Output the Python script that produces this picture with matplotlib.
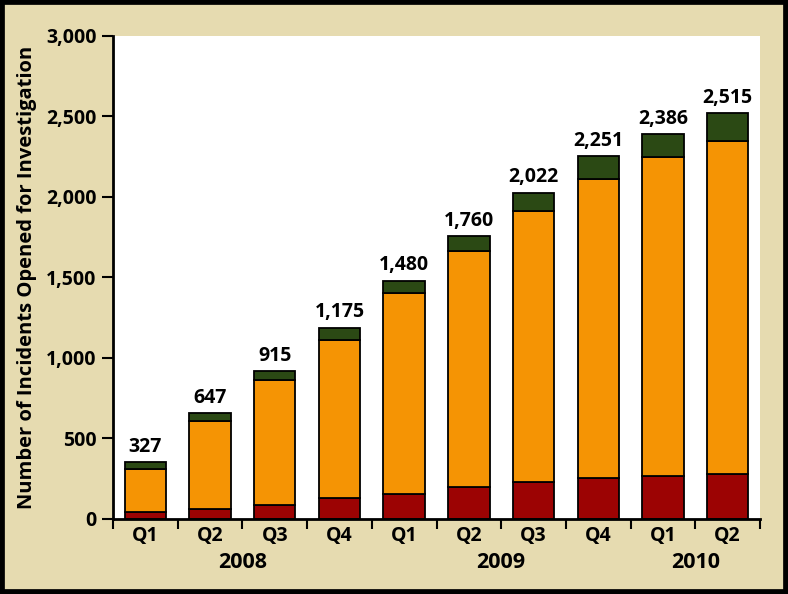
import matplotlib.pyplot as plt
import numpy as np
from matplotlib.patches import Rectangle
from matplotlib.ticker import FuncFormatter

# values
quarters = ["Q1", "Q2", "Q3", "Q4", "Q1", "Q2", "Q3", "Q4", "Q1", "Q2"]
years = ["2008", "2009", "2010"]
year_centers = [1.5, 5.5, 8.5]
red_part = [43, 64, 85, 132, 153, 197, 232, 255, 267, 279]
orange_part = [266, 545, 778, 980, 1252, 1469, 1681, 1858, 1979, 2069]
green_part = [43, 47, 54, 74, 73, 91, 113, 141, 143, 171]
total_labels = ["327", "647", "915", "1,175", "1,480", "1,760", "2,022", "2,251", "2,386", "2,515"]

beige = "#e6dbb0"
c_red = "#9c0303"
c_orange = "#f59404"
c_green = "#2b4914"

plt.rcParams['font.family'] = ['Open Sans', 'DejaVu Sans']
plt.rcParams['font.weight'] = 'bold'


def main():
    fig = plt.figure(figsize=(7.88, 5.94), dpi=100, facecolor=beige)
    ax = fig.add_axes([0.1434, 0.1263, 0.8211, 0.8131])
    ax.set_facecolor("white")

    x = np.arange(len(quarters))
    red = np.array(red_part)
    orange = np.array(orange_part)
    green = np.array(green_part)
    w = 0.64
    kw = dict(width=w, edgecolor="black", linewidth=1.3, zorder=3)
    ax.bar(x, red, color=c_red, **kw)
    ax.bar(x, orange, bottom=red, color=c_orange, **kw)
    ax.bar(x, green, bottom=red + orange, color=c_green, **kw)

    tops = red + orange + green
    for xi, top, lab in zip(x, tops, total_labels):
        ax.annotate(lab, (xi, top), xytext=(0, 4), textcoords="offset points",
                    ha="center", va="bottom", fontsize=14, fontweight="bold")

    ax.set_xlim(-0.5, len(quarters) - 0.5)
    ax.set_ylim(0, 3000)

    for s in ["top", "right"]:
        ax.spines[s].set_visible(False)
    for s in ["left", "bottom"]:
        ax.spines[s].set_linewidth(2)
        ax.spines[s].set_zorder(4)

    ax.set_yticks(np.arange(0, 3001, 500))
    ax.yaxis.set_major_formatter(FuncFormatter(lambda v, p: f"{int(v):,}"))
    ax.tick_params(axis="y", length=8, width=1.5, labelsize=14, pad=4)

    ax.set_xticks(x)
    ax.set_xticklabels(quarters)
    ax.tick_params(axis="x", which="major", length=0, labelsize=14, pad=5)
    ax.set_xticks(np.arange(-0.5, len(quarters), 1), minor=True)
    ax.tick_params(axis="x", which="minor", length=7, width=1.5, direction="out")
    for lab in ax.get_xticklabels() + ax.get_yticklabels():
        lab.set_fontweight("bold")

    for yc, yr in zip(year_centers, years):
        ax.text(yc, -0.09, yr, transform=ax.get_xaxis_transform(),
                ha="center", va="center", fontsize=15.5, fontweight="bold")

    ax.set_ylabel("Number of Incidents Opened for Investigation",
                  fontsize=14.5, fontweight="bold", labelpad=6)

    fig.patches.append(Rectangle((0, 0), 1, 1, transform=fig.transFigure,
                                 fill=False, edgecolor="black", linewidth=7))

    fig.savefig("out.png", dpi=100, facecolor=beige)


if __name__ == "__main__":
    main()
